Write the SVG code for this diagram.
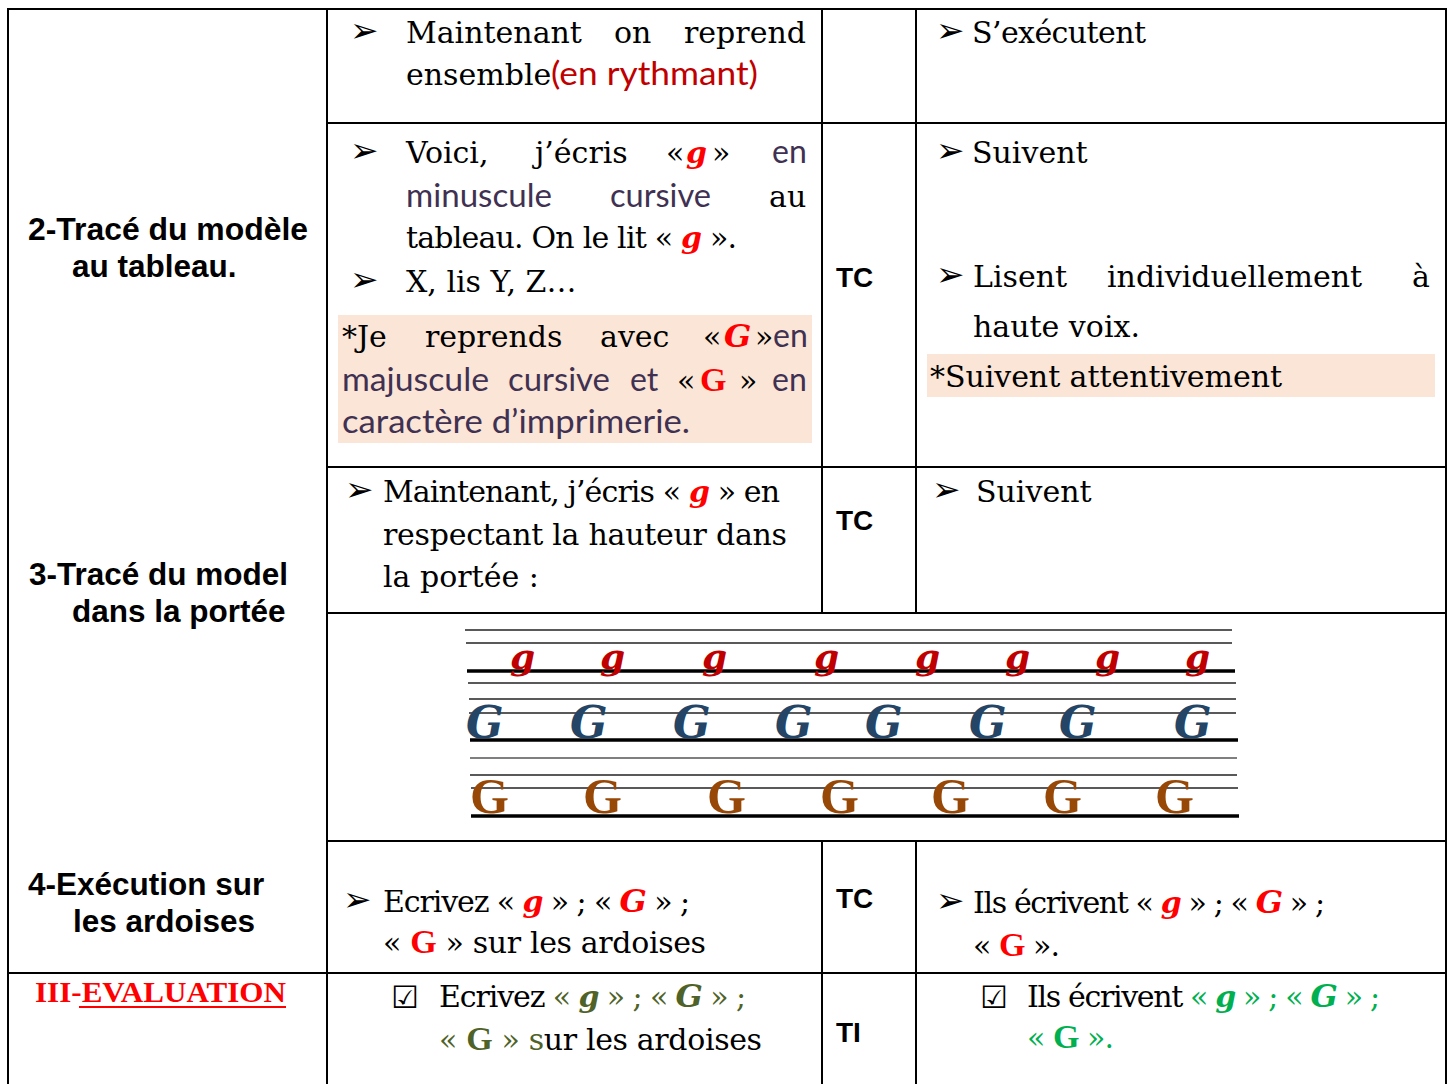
<svg xmlns="http://www.w3.org/2000/svg" width="1453" height="1084" viewBox="0 0 1453 1084">
<style>
.s{font-family:"DejaVu Serif","Liberation Serif",serif;font-size:30px;fill:#000}
.p{font-family:Lato,"Open Sans",sans-serif;font-size:32px;fill:#403152}
.h{font-family:"Liberation Sans",Arial,sans-serif;font-weight:bold;font-size:31.5px;fill:#000}
.tc{font-family:"Liberation Sans",Arial,sans-serif;font-weight:bold;font-size:28px;fill:#000}
.b{font-family:"DejaVu Sans",sans-serif;font-size:34px;fill:#000}
.cb{font-family:"DejaVu Sans",sans-serif;font-size:31px;fill:#000}
.cg{font-family:"DejaVu Serif",serif;font-weight:bold;font-style:italic}
.pg{font-family:"Liberation Serif",serif;font-weight:bold}
.red{fill:#ff0000}
.dred{fill:#c00000}
.grn1{fill:#4f6228}
.grn2{fill:#00b050}
.grid line{stroke:#000;stroke-width:2}
.staff .t{stroke:#222;stroke-width:1.5}
.staff .k{stroke:#000;stroke-width:3.5}
.hl{fill:#fbe5d6}
</style>

<g id="grid" class="grid">
  <line x1="8" y1="9" x2="1446" y2="9"/>
  <line x1="8" y1="8" x2="8" y2="1084"/>
  <line x1="1446" y1="8" x2="1446" y2="1084"/>
  <line x1="327" y1="9" x2="327" y2="1084"/>
  <line x1="822" y1="9" x2="822" y2="613"/>
  <line x1="916" y1="9" x2="916" y2="613"/>
  <line x1="822" y1="841" x2="822" y2="1084"/>
  <line x1="916" y1="841" x2="916" y2="1084"/>
  <line x1="327" y1="123" x2="1446" y2="123"/>
  <line x1="327" y1="467" x2="1446" y2="467"/>
  <line x1="327" y1="613" x2="1446" y2="613"/>
  <line x1="327" y1="841" x2="1446" y2="841"/>
  <line x1="8" y1="973" x2="1446" y2="973"/>
</g>

<g id="left-column">
  <text class="h" x="28" y="240" textLength="280" lengthAdjust="spacingAndGlyphs">2-Tracé du modèle</text>
  <text class="h" x="72" y="277">au tableau.</text>
  <text class="h" x="29" y="585">3-Tracé du model</text>
  <text class="h" x="72" y="622">dans la portée</text>
  <text class="h" x="28" y="895">4-Exécution sur</text>
  <text class="h" x="73" y="932">les ardoises</text>
  <text class="pg red" x="35" y="1002" font-size="30" textLength="251" lengthAdjust="spacingAndGlyphs">III-EVALUATION</text>
  <line x1="79" y1="1007" x2="286" y2="1007" stroke="#ff0000" stroke-width="2"/>
</g>

<g id="row1">
  <text class="b" x="350" y="42">➢</text>
  <text class="s" y="43"><tspan x="406">Maintenant</tspan><tspan x="614">on</tspan><tspan x="684">reprend</tspan></text>
  <text class="s" x="406" y="85">ensemble</text>
  <text class="p dred" x="551" y="85" textLength="207" lengthAdjust="spacingAndGlyphs">(en rythmant)</text>
  <text class="b" x="936" y="42">➢</text>
  <text class="s" x="972" y="43" textLength="174" lengthAdjust="spacing">S’exécutent</text>
</g>

<g id="row2">
  <text class="b" x="350" y="162">➢</text>
  <text class="s" y="163"><tspan x="406">Voici,</tspan><tspan x="535">j’écris</tspan><tspan x="666">«</tspan><tspan x="686" class="cg red">g</tspan><tspan x="712">»</tspan></text>
  <text class="p" x="772" y="163">en</text>
  <text class="p" x="406" y="207" textLength="146" lengthAdjust="spacingAndGlyphs">minuscule</text>
  <text class="p" x="610" y="207" textLength="101" lengthAdjust="spacingAndGlyphs">cursive</text>
  <text class="s" x="769" y="207">au</text>
  <text class="s" x="406" y="248" textLength="331" lengthAdjust="spacing">tableau. On le lit « <tspan class="cg red">g</tspan> ».</text>
  <text class="b" x="350" y="291">➢</text>
  <text class="s" x="406" y="292">X, lis Y, Z…</text>

  <rect class="hl" x="338" y="315" width="474" height="128"/>
  <text class="s" y="347"><tspan x="342">*Je</tspan><tspan x="425">reprends</tspan><tspan x="600">avec</tspan><tspan x="703">«</tspan><tspan x="724" class="cg red" font-size="32">G</tspan></text>
  <text class="s" x="755" y="347" font-size="25">»</text>
  <text class="p" x="773" y="347">en</text>
  <text class="p" x="342" y="391" textLength="147" lengthAdjust="spacingAndGlyphs">majuscule</text>
  <text class="p" x="508" y="391" textLength="102" lengthAdjust="spacingAndGlyphs">cursive</text>
  <text class="p" x="630" y="391">et</text>
  <text class="s" x="677" y="391">«</text>
  <text class="pg red" x="700" y="391" font-size="34">G</text>
  <text class="s" x="739" y="391">»</text>
  <text class="p" x="772" y="391">en</text>
  <text class="p" x="342" y="433" textLength="348" lengthAdjust="spacingAndGlyphs">caractère d’imprimerie.</text>

  <text class="tc" x="836" y="287">TC</text>

  <text class="b" x="936" y="162">➢</text>
  <text class="s" x="972" y="163">Suivent</text>
  <text class="b" x="936" y="286">➢</text>
  <text class="s" y="287"><tspan x="973">Lisent</tspan><tspan x="1107">individuellement</tspan><tspan x="1412">à</tspan></text>
  <text class="s" x="973" y="337">haute voix.</text>
  <rect class="hl" x="927" y="354" width="508" height="43"/>
  <text class="s" x="930" y="387" textLength="352" lengthAdjust="spacing">*Suivent attentivement</text>
</g>

<g id="row3">
  <text class="b" x="345" y="501">➢</text>
  <text class="s" x="383" y="502" textLength="397" lengthAdjust="spacing">Maintenant, j’écris « <tspan class="cg red">g</tspan> » en</text>
  <text class="s" x="383" y="545" textLength="404" lengthAdjust="spacing">respectant la hauteur dans</text>
  <text class="s" x="383" y="587">la portée :</text>
  <text class="tc" x="836" y="530">TC</text>
  <text class="b" x="932" y="501">➢</text>
  <text class="s" x="976" y="502">Suivent</text>
</g>

<g id="staff" class="staff">
  <line class="t" x1="465" y1="630" x2="1232" y2="630"/>
  <line class="t" x1="466" y1="643" x2="1232" y2="643"/>
  <line class="k" x1="467" y1="671" x2="1235" y2="671"/>
  <line class="t" x1="468" y1="683" x2="1236" y2="683"/>
  <line class="t" x1="469" y1="699" x2="1236" y2="699"/>
  <line class="t" x1="469" y1="713" x2="1236" y2="713"/>
  <line class="k" x1="470" y1="740" x2="1238" y2="740"/>
  <line class="t" x1="470" y1="758" x2="1237" y2="758" style="stroke:#555"/>
  <line class="t" x1="470" y1="775" x2="1237" y2="775"/>
  <line class="t" x1="471" y1="788" x2="1238" y2="788"/>
  <line class="k" x1="471" y1="816" x2="1239" y2="816"/>
  <g class="cg dred" font-size="36">
    <text x="510" y="669">g</text>
    <text x="600" y="669">g</text>
    <text x="702" y="669">g</text>
    <text x="814" y="669">g</text>
    <text x="915" y="669">g</text>
    <text x="1005" y="669">g</text>
    <text x="1095" y="669">g</text>
    <text x="1185" y="669">g</text>
  </g>
  <g class="cg" font-size="44" fill="#244565">
    <text x="466" y="738">G</text>
    <text x="570" y="738">G</text>
    <text x="673" y="738">G</text>
    <text x="775" y="738">G</text>
    <text x="865" y="738">G</text>
    <text x="969" y="738">G</text>
    <text x="1059" y="738">G</text>
    <text x="1174" y="738">G</text>
  </g>
  <g class="pg" font-size="50" fill="#984806">
    <text x="470" y="813">G</text>
    <text x="583" y="813">G</text>
    <text x="707" y="813">G</text>
    <text x="820" y="813">G</text>
    <text x="931" y="813">G</text>
    <text x="1043" y="813">G</text>
    <text x="1155" y="813">G</text>
  </g>
</g>

<g id="row5">
  <text class="b" x="343" y="911">➢</text>
  <text class="s" x="383" y="912" textLength="307" lengthAdjust="spacing">Ecrivez « <tspan class="cg red">g</tspan> » ; « <tspan class="cg red" font-size="32">G</tspan> » ;</text>
  <text class="s" x="383" y="953" textLength="323" lengthAdjust="spacing">« <tspan class="pg red" font-size="34">G</tspan> » sur les ardoises</text>
  <text class="tc" x="836" y="908">TC</text>
  <text class="b" x="936" y="912">➢</text>
  <text class="s" x="973" y="913" textLength="352" lengthAdjust="spacing">Ils écrivent « <tspan class="cg red">g</tspan> » ; « <tspan class="cg red" font-size="32">G</tspan> » ;</text>
  <text class="s" x="973" y="956" textLength="87" lengthAdjust="spacing">« <tspan class="pg red" font-size="34">G</tspan> ».</text>
</g>

<g id="row6">
  <text class="cb" x="391" y="1008">☑</text>
  <text class="s" x="439" y="1007" textLength="307" lengthAdjust="spacing">Ecrivez <tspan class="grn1">« <tspan class="cg">g</tspan> » ; « <tspan class="cg" font-size="32">G</tspan> » ;</tspan></text>
  <text class="s" x="439" y="1050" textLength="323" lengthAdjust="spacing"><tspan class="grn1">« <tspan class="pg" font-size="34">G</tspan> » s</tspan>ur les ardoises</text>
  <text class="tc" x="836" y="1042">TI</text>
  <text class="cb" x="980" y="1008">☑</text>
  <text class="s" x="1027" y="1007" textLength="353" lengthAdjust="spacing">Ils écrivent <tspan class="grn2">« <tspan class="cg">g</tspan> » ; « <tspan class="cg" font-size="32">G</tspan> » ;</tspan></text>
  <text class="s grn2" x="1027" y="1048" textLength="87" lengthAdjust="spacing">« <tspan class="pg" font-size="34">G</tspan> ».</text>
</g>
</svg>
